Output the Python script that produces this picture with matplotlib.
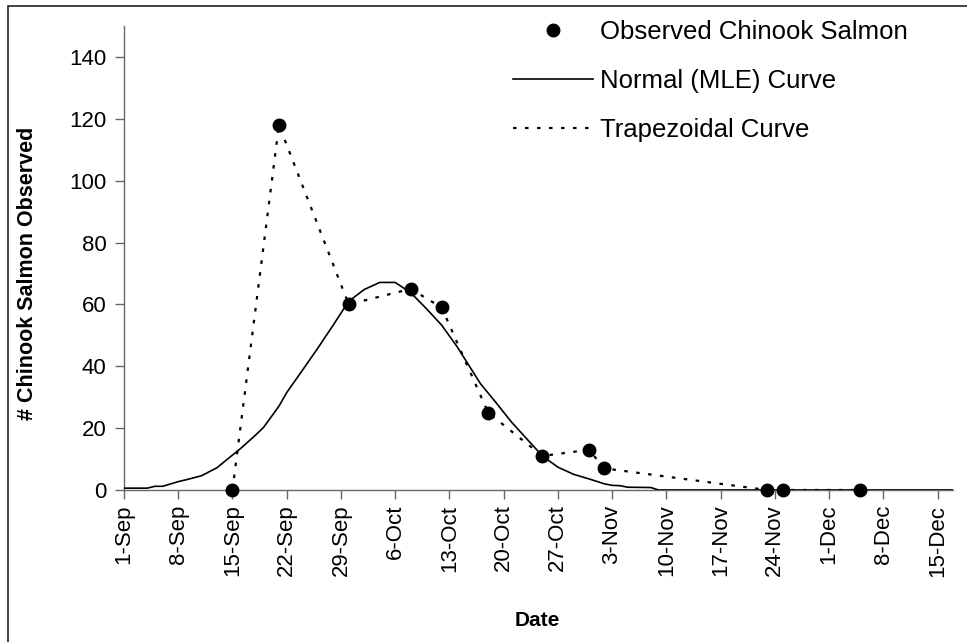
import matplotlib
matplotlib.use("Agg")
import matplotlib.pyplot as plt
from matplotlib.patches import Rectangle

plt.rcParams["font.family"] = ["Liberation Sans", "DejaVu Sans"]

# x is days since 1-Sep
obs_day = [14, 20, 29, 37, 41, 47, 54, 60, 62, 83, 85, 95]
obs_count = [0, 118, 60, 65, 59, 25, 11, 13, 7, 0, 0, 0]

normal_day = [0, 3, 4, 5, 7, 8, 10, 12, 14, 15, 17, 18, 20, 21, 23, 25, 27, 29,
              31, 33, 35, 37, 39, 41, 43, 46, 48, 50, 52, 54, 56, 58, 60, 62,
              63, 64, 65, 68, 69, 107]
normal_val = [0.6, 0.6, 1.2, 1.2, 2.7, 3.3, 4.6, 7.2, 11.3, 13.3, 17.8, 20.2,
              27.1, 31.5, 38.6, 45.8, 53.3, 61.0, 64.8, 67.1, 67.1, 63.8, 58.7,
              53.3, 46.3, 34.4, 28.3, 22.0, 16.5, 11.0, 7.4, 5.1, 3.6, 2.0,
              1.5, 1.4, 0.9, 0.8, 0.0, 0.0]

tick_days = [0, 7, 14, 21, 28, 35, 42, 49, 56, 63, 70, 77, 84, 91, 98, 105]
tick_labels = ["1-Sep", "8-Sep", "15-Sep", "22-Sep", "29-Sep", "6-Oct", "13-Oct",
               "20-Oct", "27-Oct", "3-Nov", "10-Nov", "17-Nov", "24-Nov",
               "1-Dec", "8-Dec", "15-Dec"]
y_ticks = [0, 20, 40, 60, 80, 100, 120, 140]

W, H = 967, 642
fig = plt.figure(figsize=(W / 100, H / 100), dpi=100)
ax = fig.add_axes([124 / W, 1 - 490 / H, (953 - 124) / W, (490 - 26) / H])

# outer chart border (only top/left visible in the picture)
fig.patches.append(Rectangle((8 / W, -0.05), 1.2, 1 - 5.5 / H + 0.05,
                             transform=fig.transFigure, fill=False,
                             edgecolor="#222222", linewidth=1.2))

ax.plot(obs_day, obs_count, ls=(0, (1.6, 3.8)), color="black", lw=1.6,
        label="Trapezoidal Curve", zorder=2)
ax.plot(normal_day, normal_val, color="black", lw=1.2,
        label="Normal (MLE) Curve", zorder=3)
ax.plot(obs_day, obs_count, "o", color="black", ms=9, ls="none",
        label="Observed Chinook Salmon", zorder=4, clip_on=False)

ax.set_xlim(0, 107)
ax.set_ylim(0, 150)
ax.set_xticks(tick_days)
ax.set_xticklabels(tick_labels, rotation=90, va="top", ha="center")
ax.set_yticks(y_ticks)
for s in ["top", "right"]:
    ax.spines[s].set_visible(False)
for s in ["left", "bottom"]:
    ax.spines[s].set_color("#666666")
    ax.spines[s].set_linewidth(1.0)
ax.tick_params(axis="both", colors="#666666", labelcolor="black", length=6.5,
               width=1.0, labelsize=16)
ax.tick_params(axis="y", pad=6)
ax.tick_params(axis="x", pad=4)

fig.text(28 / W, 1 - 273 / H, "# Chinook Salmon Observed", rotation=90,
         ha="center", va="center", fontsize=15.5, fontweight="bold")
fig.text(537 / W, 1 - 621 / H, "Date", ha="center", va="center",
         fontsize=15, fontweight="bold")

h, l = ax.get_legend_handles_labels()
order = [2, 1, 0]
ax.legend([h[i] for i in order], [l[i] for i in order], loc="upper left",
          bbox_to_anchor=(513 / W, 1 - 20 / H), bbox_transform=fig.transFigure,
          frameon=False, fontsize=18.5, handlelength=3.1, handletextpad=0.3,
          labelspacing=0.98, borderpad=0, borderaxespad=0)

fig.savefig("out.png", dpi=100)
